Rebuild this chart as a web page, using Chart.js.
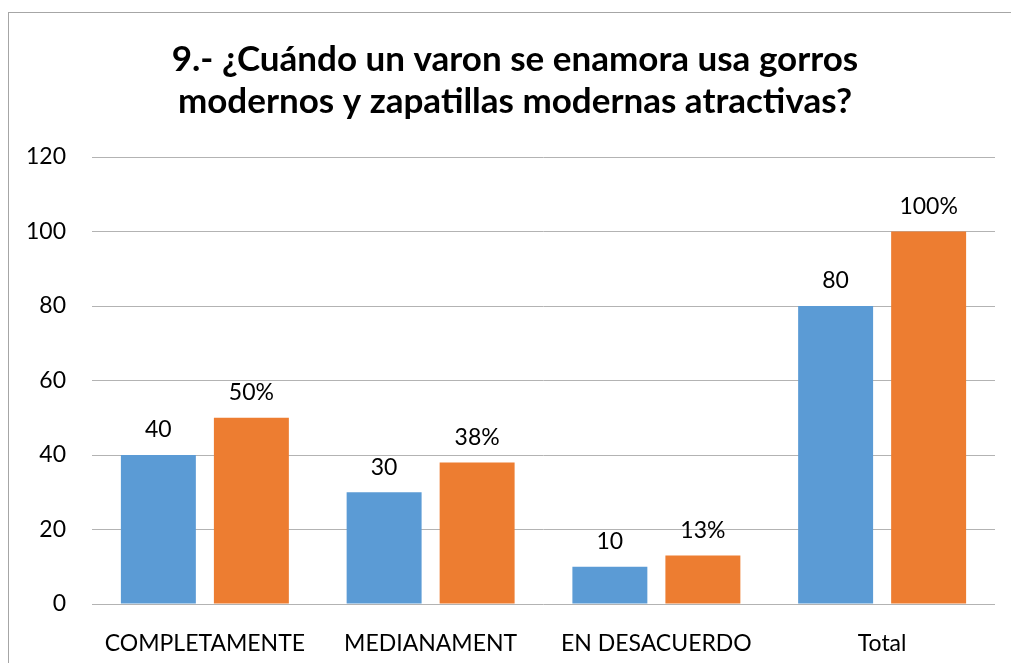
<!DOCTYPE html>
<html>
<head>
<meta charset="utf-8">
<script src="https://cdn.jsdelivr.net/npm/chart.js@4.4.1/dist/chart.umd.min.js"></script>
<style>
  body { margin: 0; background: #fff; overflow: hidden; }
  #frame { position: absolute; left: 8px; top: 12px; width: 1100px; height: 700px; border: 1px solid #a6a6a6; }
  #wrap { position: absolute; left: 0; top: 0; width: 1002px; height: 650px; }
</style>
</head>
<body>
<div id="frame"><div id="wrap"><canvas id="myChart"></canvas></div></div>
<script>
// datos de la pregunta 9
const categorias = ["COMPLETAMENTE", "MEDIANAMENT", "EN DESACUERDO", "Total"];
const cantidades = [40, 30, 10, 80];
const porcentajes = [50, 38, 13, 100];
const tickLabels = [0, 20, 40, 60, 80, 100, 120];

const fuente = "Lato, 'Open Sans', sans-serif";

// etiquetas encima de cada barra
const etiquetas = {
    id: "etiquetas",
    afterDatasetsDraw(chart) {
        const ctx = chart.ctx;
        ctx.save();
        ctx.font = "23px " + fuente;
        ctx.fillStyle = "#000";
        ctx.textAlign = "center";
        ctx.textBaseline = "middle";
        chart.data.datasets.forEach((ds, i) => {
            chart.getDatasetMeta(i).data.forEach((bar, j) => {
                const txt = i === 1 ? ds.data[j] + "%" : String(ds.data[j]);
                ctx.fillText(txt, bar.x, bar.y - 25);
            });
        });
        ctx.restore();
    },
};

// el titulo va un poco a la derecha, como en el original
const moverTitulo = {
    id: "moverTitulo",
    afterLayout(chart) {
        const t = chart.titleBlock;
        if (t) {
            t.left += 13;
            t.right += 13;
        }
    },
};

(function () {
    const ctx = document.getElementById("myChart");
    new Chart(ctx, {
        type: "bar",
        data: {
            labels: categorias,
            datasets: [
                {
                    label: "Cantidad",
                    data: cantidades,
                    backgroundColor: "#5B9BD5",
                    barPercentage: 0.806,
                    categoryPercentage: 0.824,
                },
                {
                    label: "Porcentaje",
                    data: porcentajes,
                    backgroundColor: "#ED7D31",
                    barPercentage: 0.806,
                    categoryPercentage: 0.824,
                },
            ],
        },
        options: {
            responsive: true,
            maintainAspectRatio: false,
            animation: false,
            layout: {
                padding: { top: 26, left: 0, right: 16, bottom: 0 },
            },
            plugins: {
                legend: { display: false },
                tooltip: { enabled: false },
                title: {
                    display: true,
                    text: [
                        "9.- ¿Cuándo un varon se enamora usa gorros",
                        "modernos y zapatillas modernas atractivas?",
                    ],
                    color: "#000",
                    font: { family: fuente, size: 35, weight: "bold", lineHeight: 1.2 },
                    padding: { top: 0, bottom: 34 },
                },
            },
            scales: {
                x: {
                    grid: { display: false },
                    border: { display: false },
                    afterFit(scale) {
                        scale.height = 59;
                    },
                    ticks: {
                        color: "#000",
                        font: { family: fuente, size: 23 },
                        padding: 18,
                        maxRotation: 0,
                    },
                },
                y: {
                    min: 0,
                    max: 120,
                    afterBuildTicks(scale) {
                        scale.ticks = tickLabels.map((v) => ({ value: v }));
                    },
                    afterFit(scale) {
                        scale.width = 83;
                    },
                    grid: { color: "#b3b3b3", lineWidth: 1, drawTicks: false },
                    border: { display: false },
                    ticks: {
                        color: "#000",
                        font: { family: fuente, size: 23 },
                        padding: 26,
                    },
                },
            },
        },
        plugins: [etiquetas, moverTitulo],
    });
})();
</script>
</body>
</html>
